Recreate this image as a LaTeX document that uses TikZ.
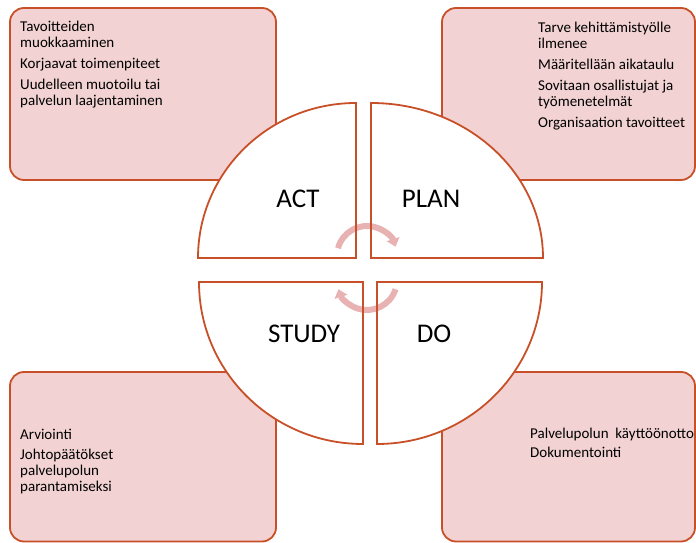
\documentclass[tikz,border=0pt]{standalone}
\usepackage{fontspec}
\setmainfont{Carlito}
\usetikzlibrary{arrows.meta,calc}
\definecolor{edge}{RGB}{200,80,40}
\definecolor{boxfill}{RGB}{242,210,210}
\definecolor{cyc}{RGB}{232,178,178}
\tikzset{
  infobox/.style={draw=edge,fill=boxfill,line width=1.8bp,rounded corners=14bp},
  quadfill/.style={fill=white},
  quadline/.style={draw=edge,line width=1.8bp},
  infotext/.style={anchor=base west,align=left,inner sep=0pt,font=\fontsize{15bp}{16bp}\selectfont},
  phase/.style={font=\fontsize{27bp}{30bp}\selectfont,inner sep=0pt},
  cycarrow/.style={draw=cyc,line width=6bp,-{Triangle[width=13bp,length=8bp]}}
}
\newcommand{\pathact}{(356,285) -- (198,285) arc[start angle=180,end angle=90,x radius=158bp,y radius=155bp] -- cycle}
\newcommand{\pathplan}{(371,285) -- (371,440) arc[start angle=90,end angle=0,x radius=172bp,y radius=155bp] -- cycle}
\newcommand{\pathstudy}{(363,261) -- (199,261) arc[start angle=180,end angle=270,x radius=164bp,y radius=162bp] -- cycle}
\newcommand{\pathdo}{(377,261) -- (377,99) arc[start angle=270,end angle=360,x radius=165bp,y radius=162bp] -- cycle}
\begin{document}
\begin{tikzpicture}[x=1bp,y=1bp]
\useasboundingbox (0,0) rectangle (696,543);
% boxes
\draw[infobox] (10,363) rectangle (276,535);
\draw[infobox] (442,363) rectangle (695,535);
\draw[infobox] (10,1.5) rectangle (276,171);
\draw[infobox] (442,1.5) rectangle (695,171);
% quadrant fills
\fill[quadfill] \pathact;
\fill[quadfill] \pathplan;
\fill[quadfill] \pathstudy;
\fill[quadfill] \pathdo;
% cycle arrows
\coordinate (c1) at (367,287);
\coordinate (c2) at (367,263);
\draw[cycarrow] ($(c1)+(165:30bp)$) arc[start angle=165,end angle=18,radius=30bp];
\draw[cycarrow] ($(c2)+(-18:30bp)$) arc[start angle=-18,end angle=-162,radius=30bp];
% quadrant borders
\draw[quadline] \pathact;
\draw[quadline] \pathplan;
\draw[quadline] \pathstudy;
\draw[quadline] \pathdo;
% labels
\node[phase] (act) at (298,344) {ACT};
\node[phase] (plan) at (431,344) {PLAN};
\node[phase] (study) at (304,209) {STUDY};
\node[phase] (do) at (434,209) {DO};
% texts (anchor = baseline of last line)
\node[infotext] (tl) at (20,437) {Tavoitteiden\\muokkaaminen\\[5bp]Korjaavat toimenpiteet\\[5bp]Uudelleen muotoilu tai\\palvelun laajentaminen};
\node[infotext] (tr) at (538,415) {Tarve kehittämistyölle\\ilmenee\\[5bp]Määritellään aikataulu\\[5bp]Sovitaan osallistujat ja\\työmenetelmät\\[5bp]Organisaation tavoitteet};
\node[infotext] (bl) at (20,51) {Arviointi\\[4bp]Johtopäätökset\\palvelupolun\\parantamiseksi};
\node[infotext] (br) at (530,85) {Palvelupolun\ \ käyttöönotto\\[3bp]Dokumentointi};
\end{tikzpicture}
\end{document}
